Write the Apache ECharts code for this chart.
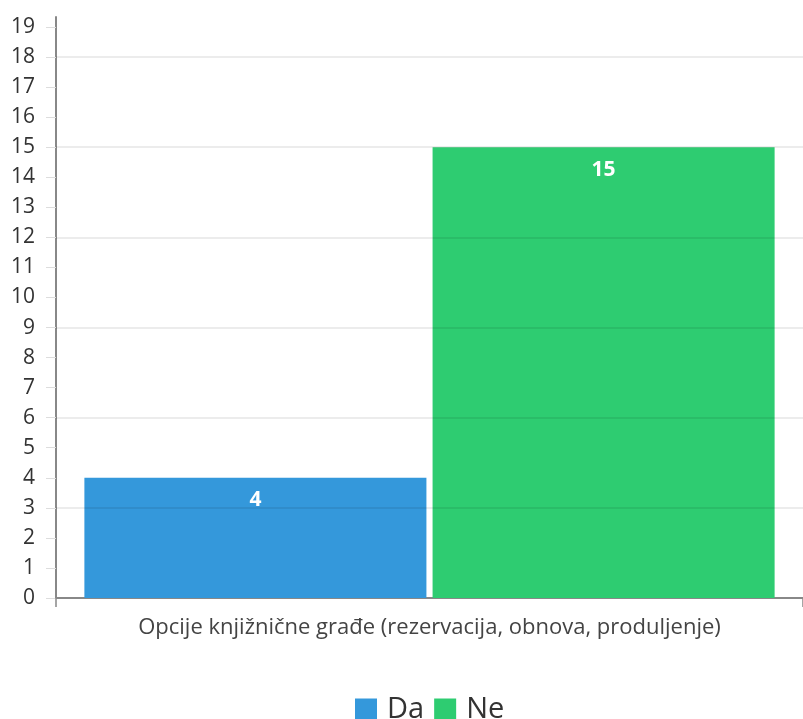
<!DOCTYPE html>
<html><head><meta charset="utf-8">
<script src="https://cdn.jsdelivr.net/npm/echarts@6/dist/echarts.min.js"></script>
<style>html,body{margin:0;padding:0;background:#fff}#c{width:803px;height:719px}</style>
</head><body><div id="c"></div>
<script>
const categories = ['Opcije knjižnične građe (rezervacija, obnova, produljenje)'];
const seriesNames = ['Da', 'Ne'];
const daValues = [4];
const neValues = [15];
const yTickValues = [0,1,2,3,4,5,6,7,8,9,10,11,12,13,14,15,16,17,18,19];
const colors = ['#3498db', '#2ecc71'];
const FONT = '"Open Sans", sans-serif';

const chart = echarts.init(document.getElementById('c'));
const labelOpt = {show: true, position: 'insideTop', distance: 12, color: '#fff', fontWeight: 'bold', fontSize: 21, fontFamily: FONT};
chart.setOption({
  animation: false,
  color: colors,
  grid: {left: 56, right: 0, top: 17, bottom: 121, containLabel: false},
  legend: {
    top: 690, left: 350, itemWidth: 22, itemHeight: 22, itemGap: 10,
    icon: 'rect',
    textStyle: {fontSize: 29, fontFamily: FONT, color: '#333', padding: [0,0,0,5]},
    data: seriesNames
  },
  xAxis: {
    type: 'category', data: categories,
    axisLine: {lineStyle: {color: '#888', width: 2}},
    axisTick: {show: true, length: 9, lineStyle: {color: '#888', width: 1.5}},
    axisLabel: {fontSize: 22, fontFamily: FONT, color: '#444', margin: 19}
  },
  yAxis: [{
    type: 'value', min: 0, max: 19.333, interval: 1,
    axisLine: {show: true, lineStyle: {color: '#888', width: 2}},
    axisTick: {show: true, length: 10, customValues: yTickValues, lineStyle: {color: '#ddd'}},
    axisLabel: {fontSize: 21, fontFamily: FONT, color: '#333', margin: 21, customValues: yTickValues},
    splitLine: {show: false}
  }, {
    type: 'value', min: 0, max: 19.333, interval: 3, position: 'left', z: 5,
    axisLine: {show: false}, axisTick: {show: false}, axisLabel: {show: false},
    splitLine: {show: true, showMaxLine: false, showMinLine: false, lineStyle: {color: 'rgba(0,0,0,0.1)', width: 1.5}}
  }],
  series: [
    {name: seriesNames[0], type: 'bar', data: daValues, barGap: '1.8%', barCategoryGap: '7.6%', label: labelOpt},
    {name: seriesNames[1], type: 'bar', data: neValues, barGap: '1.8%', barCategoryGap: '7.6%', label: labelOpt}
  ]
});
</script></body></html>
